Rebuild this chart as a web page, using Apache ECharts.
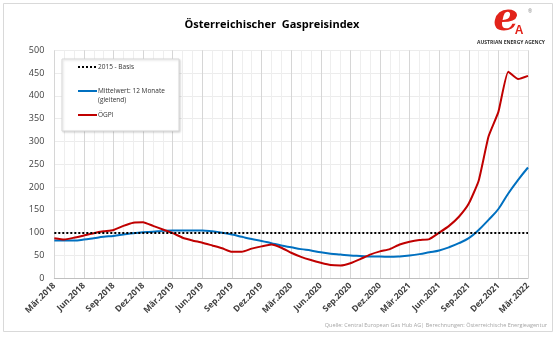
<!DOCTYPE html>
<html><head><meta charset="utf-8">
<script src="https://cdn.jsdelivr.net/npm/echarts@6/dist/echarts.min.js"></script>
<style>html,body{margin:0;padding:0;background:#fff}#c{width:559px;height:337px}</style>
</head><body><div id="c"></div>
<script>
const categories = ['Mär.2018','Apr.2018','Mai.2018','Jun.2018','Jul.2018','Aug.2018','Sep.2018','Okt.2018','Nov.2018','Dez.2018','Jän.2019','Feb.2019',
'Mär.2019','Apr.2019','Mai.2019','Jun.2019','Jul.2019','Aug.2019','Sep.2019','Okt.2019','Nov.2019','Dez.2019','Jän.2020','Feb.2020',
'Mär.2020','Apr.2020','Mai.2020','Jun.2020','Jul.2020','Aug.2020','Sep.2020','Okt.2020','Nov.2020','Dez.2020','Jän.2021','Feb.2021',
'Mär.2021','Apr.2021','Mai.2021','Jun.2021','Jul.2021','Aug.2021','Sep.2021','Okt.2021','Nov.2021','Dez.2021','Jän.2022','Feb.2022','Mär.2022'];
const oegpi = [88,85,89,94,99,103,106,115,122,123,115,107,99,89,83,78,72,66,58,58,65,70,74,67,56,47,40,34,29,28,33,42,52,59,64,74,80,84,86,100,115,135,164,214,311,365,453,437,444];
const mittelwert = [83,83,83,85,88,91,93,96,99,101,102,104,105,105,105,105,103,100,96,91,86,82,77,72,68,64,61,57,54,52,50,49,48,48,47,48,50,53,57,61,68,77,88,106,128,152,186,216,243];
const basis = 100;
const yTicks = {min:0, max:500, interval:50};
const legendNames = ['2015 - Basis','Mittelwert: 12 Monate\n(gleitend)','ÖGPI'];
const titleText = 'Österreichischer  Gaspreisindex';
const sourceText = 'Quelle: Central European Gas Hub AG| Berechnungen: Österreichische Energieagentur';

const chart = echarts.init(document.getElementById('c'));
const FONT = '"Open Sans", "Liberation Sans", sans-serif';
chart.setOption({
  animation:false,
  backgroundColor:'#fff',
  title:{text:titleText,left:267,top:14,textAlign:'center',textStyle:{fontFamily:FONT,fontSize:11,fontWeight:'bold',color:'#000'}},
  grid:{left:54.3,right:31,top:50.3,bottom:58.7},
  xAxis:{type:'category',data:categories,boundaryGap:false,
    axisLine:{lineStyle:{color:'#bfbfbf',width:1}},
    axisTick:{show:false},
    axisLabel:{interval:2,rotate:45,fontFamily:FONT,fontSize:8.5,fontWeight:'bold',color:'#404040',margin:6},
    splitLine:{show:true,interval:0,lineStyle:{color:['#d6d6d6','#eeeeee','#eeeeee'],width:1}}
  },
  yAxis:{type:'value',min:yTicks.min,max:yTicks.max,interval:yTicks.interval,
    axisLine:{show:false},axisTick:{show:false},
    axisLabel:{fontFamily:FONT,fontSize:9,color:'#404040',margin:10},
    splitLine:{lineStyle:{color:'#ececec',width:1}}
  },
  series:[
    {name:'ÖGPI',type:'line',data:oegpi,smooth:0.15,symbol:'none',lineStyle:{color:'#C00000',width:2},z:3,
     markLine:{silent:true,symbol:'none',label:{show:false},data:[{yAxis:basis}],lineStyle:{color:'#000',type:[2,2],width:2}}},
    {name:'Mittelwert',type:'line',data:mittelwert,smooth:0.4,symbol:'none',lineStyle:{color:'#0070C0',width:2},z:2}
  ],
  graphic:[
    {type:'rect',shape:{x:3.5,y:3.5,width:549,height:328},style:{fill:'none',stroke:'#d9d9d9',lineWidth:1},z:-1},
    {type:'rect',shape:{x:62,y:59,width:117,height:72},style:{fill:'#fff',stroke:'#d9d9d9',lineWidth:1,shadowBlur:2,shadowColor:'rgba(0,0,0,0.15)',shadowOffsetX:1,shadowOffsetY:1},z:10},
    {type:'line',shape:{x1:78,y1:67,x2:97,y2:67},style:{stroke:'#000',lineWidth:2,lineDash:[2,2]},z:11},
    {type:'text',x:98,y:67,style:{text:legendNames[0],fontFamily:FONT,fontSize:6.5,fill:'#333',verticalAlign:'middle'},z:11},
    {type:'line',shape:{x1:78,y1:91,x2:97,y2:91},style:{stroke:'#0070C0',lineWidth:2},z:11},
    {type:'text',x:98,y:87,style:{text:legendNames[1],fontFamily:FONT,fontSize:6.5,lineHeight:8.5,fill:'#333',verticalAlign:'top'},z:11},
    {type:'line',shape:{x1:78,y1:115,x2:97,y2:115},style:{stroke:'#C00000',lineWidth:2},z:11},
    {type:'text',x:98,y:115,style:{text:legendNames[2],fontFamily:FONT,fontSize:6.5,fill:'#333',verticalAlign:'middle'},z:11},
    {type:'text',x:547,y:325,style:{text:sourceText,fontFamily:FONT,fontSize:5.5,fill:'#a6a6a6',align:'right',verticalAlign:'middle'}},
    {type:'text',x:506,y:20,style:{text:'e',fontFamily:'"DejaVu Serif", serif',fontSize:40,fontStyle:'italic',fontWeight:'bold',fill:'#E2231A',align:'center',verticalAlign:'middle'}},
    {type:'text',x:519,y:31,style:{text:'A',fontFamily:'"Liberation Sans", sans-serif',fontSize:12,fontWeight:'bold',fill:'#E2231A',align:'center',verticalAlign:'middle'}},
    {type:'text',x:530,y:12,style:{text:'®',fontFamily:FONT,fontSize:5,fill:'#888',align:'center',verticalAlign:'middle'}},
    {type:'text',x:511,y:43,style:{text:'AUSTRIAN ENERGY AGENCY',fontFamily:FONT,fontSize:5,fontWeight:'bold',fill:'#333',align:'center',verticalAlign:'middle'}}
  ]
});
</script></body></html>
